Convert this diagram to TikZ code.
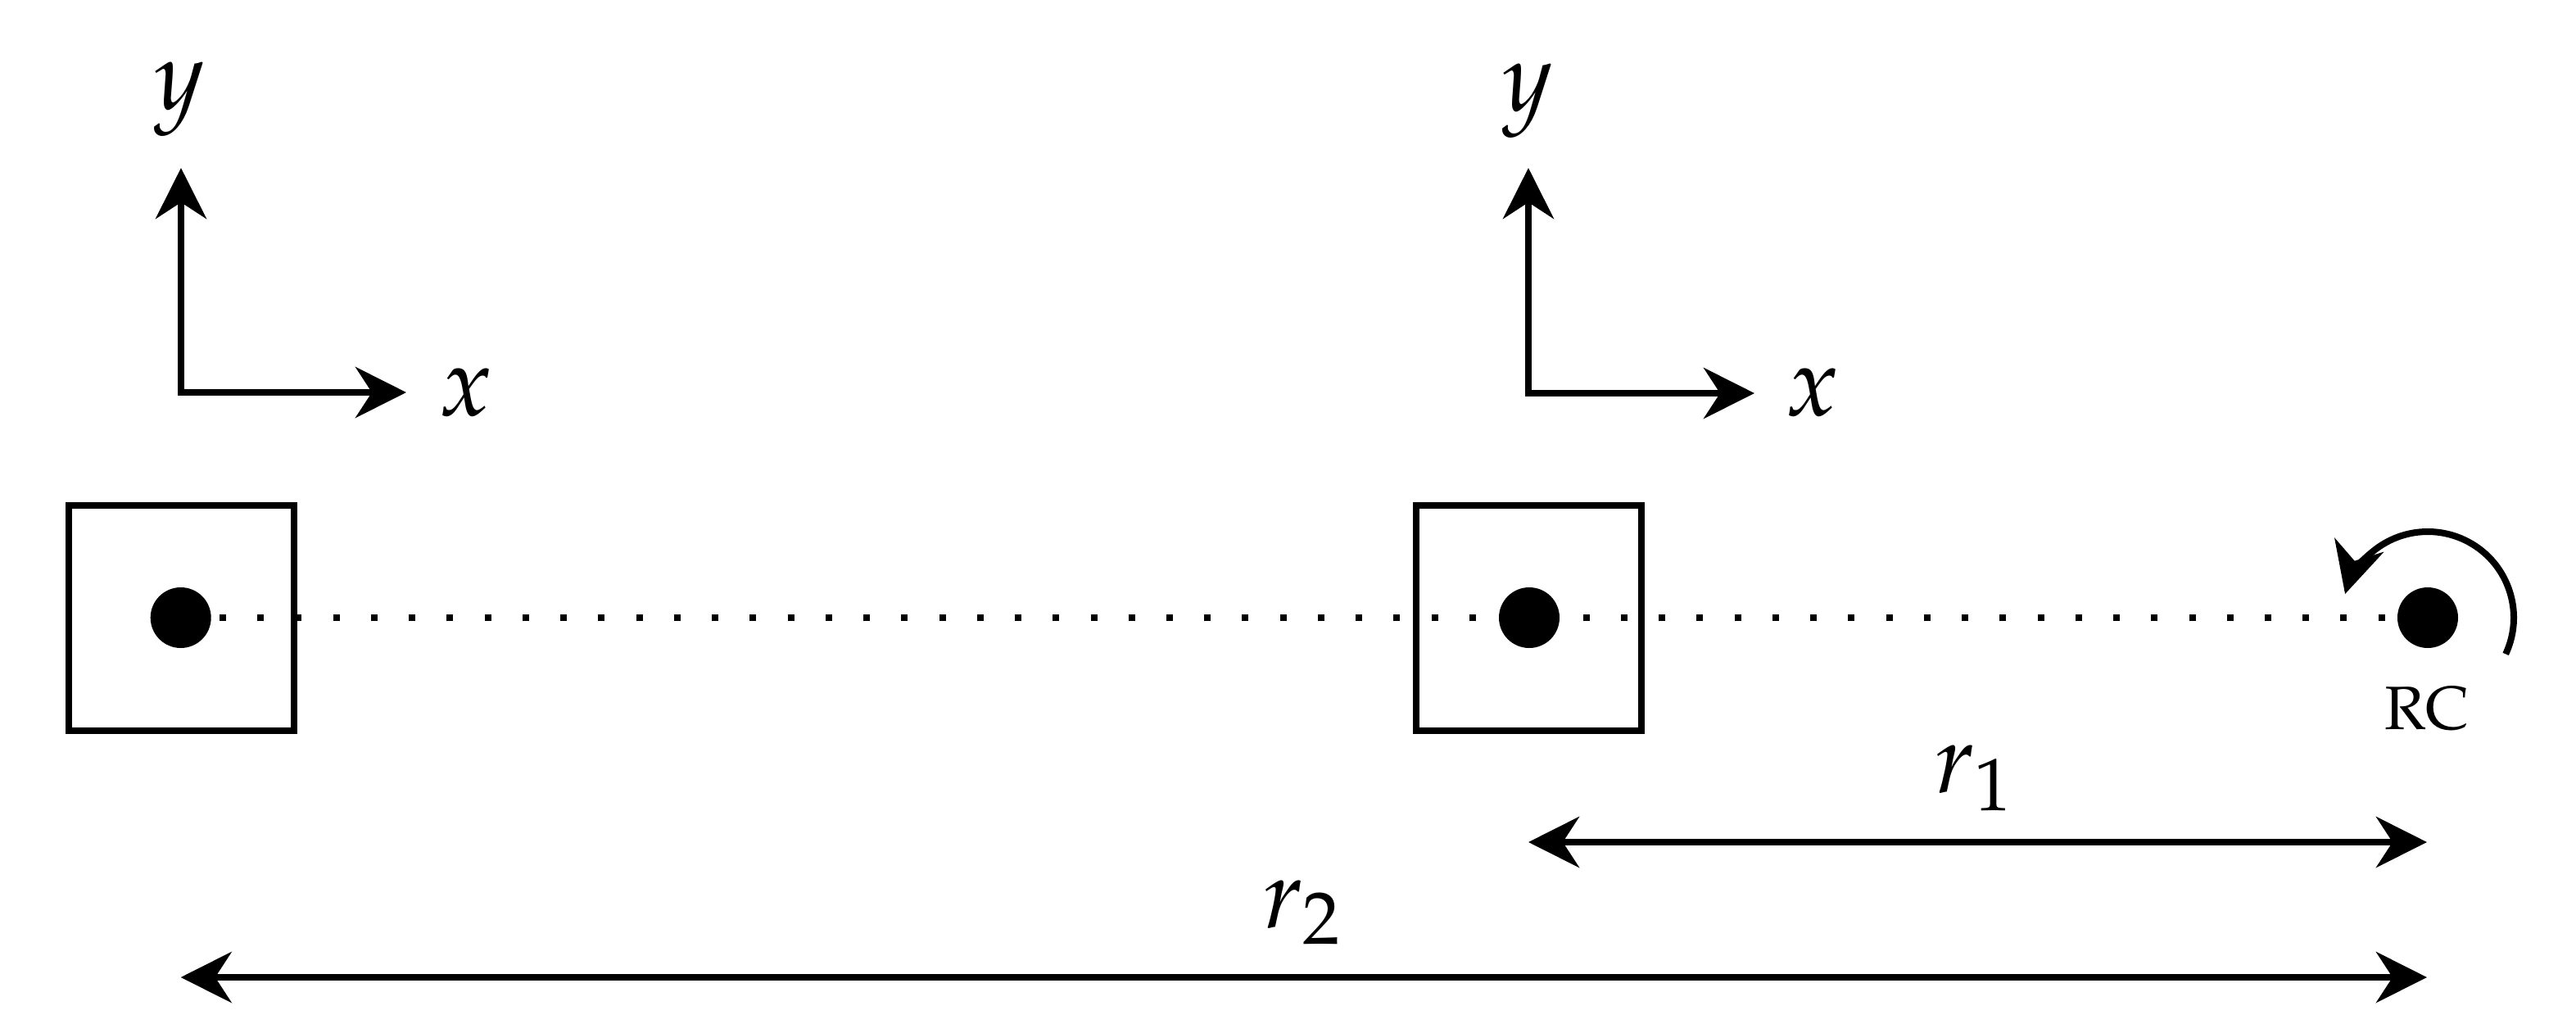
\documentclass[tikz,border=0pt]{standalone}
\usepackage{mathpazo}
\usetikzlibrary{arrows.meta,calc}
\tikzset{
  ln/.style={line width=0.08cm},
  head/.style={Stealth[length=0.62cm,width=0.62cm,inset=0.2cm]},
  tip/.style={-{Stealth[length=0.62cm,width=0.62cm,inset=0.2cm]}},
  dbl/.style={{Stealth[length=0.62cm,width=0.62cm,inset=0.2cm]}-{Stealth[length=0.62cm,width=0.62cm,inset=0.2cm]}},
  massbox/.style={draw,ln,minimum width=2.75cm,minimum height=2.75cm,inner sep=0pt,outer sep=0pt},
  dotnode/.style={circle,fill=black,minimum size=0.74cm,inner sep=0pt,outer sep=0pt},
  mlabel/.style={inner sep=0pt,anchor=base,font=\fontsize{34}{40}\selectfont},
  rclabel/.style={inner sep=0pt,anchor=base,font=\fontencoding{T1}\fontfamily{ppl}\fontsize{21.3}{25}\selectfont},
  dots/.style={line width=0.08cm,dash pattern=on 0.08cm off 0.3824cm,dash phase=0.3594cm}
}
\begin{document}
\begin{tikzpicture}
\useasboundingbox (0,0) rectangle (31.45,-12.49);
% boxes
\node[massbox] (box1) at (2.215,-7.545) {};
\node[massbox] (box2) at (18.66,-7.545) {};
% dotted line
\node[dotnode] (m1) at (2.207,-7.54) {};
\node[dotnode] (rc) at (29.64,-7.54) {};
\draw[dots] (m1.east) -- (rc.west);
\node[dotnode] (m2) at (18.67,-7.54) {};
\node[rclabel] (rclab) at (29.63,-8.90) {RC};
% axes left
\coordinate (y1) at (2.21,-2.05);
\coordinate (x1) at (4.96,-4.79);
\draw[ln,dbl,miter limit=10] (y1) |- (x1);
\node[mlabel] (ly1) at (2.19,-1.33) {$y$};
\node[mlabel] (lx1) at (5.685,-5.07) {$x$};
% axes middle
\coordinate (y2) at (18.66,-2.05);
\coordinate (x2) at (21.42,-4.80);
\draw[ln,dbl,miter limit=10] (y2) |- (x2);
\node[mlabel] (ly2) at (18.65,-1.35) {$y$};
\node[mlabel] (lx2) at (22.13,-5.07) {$x$};
% rotation arc
\draw[ln,tip] ($(rc)+(-25:1.05)$) arc[start angle=-25,end angle=164,radius=1.05];
% distances
\coordinate (r1a) at (18.66,-10.28);
\coordinate (r1b) at (29.63,-10.28);
\draw[ln,dbl] (r1a) -- (r1b);
\node[mlabel] (lr1) at (24.10,-9.67) {$r_1$};
\coordinate (r2a) at (2.207,-11.93);
\coordinate (r2b) at (29.63,-11.93);
\draw[ln,dbl] (r2a) -- (r2b);
\node[mlabel] (lr2) at (15.90,-11.32) {$r_2$};
\end{tikzpicture}
\end{document}
